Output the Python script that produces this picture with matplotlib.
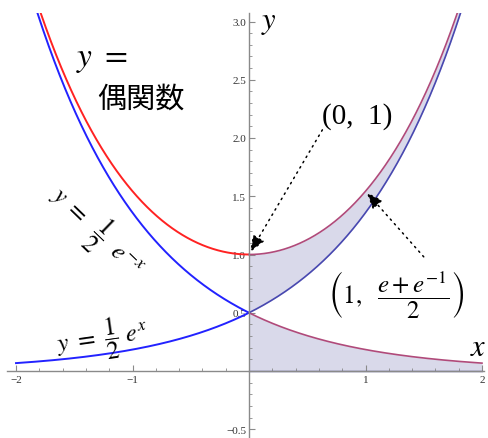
import numpy as np
import matplotlib.pyplot as plt
from matplotlib.ticker import FixedLocator, MultipleLocator

plt.rcParams['mathtext.fontset'] = 'stix'
plt.rcParams['font.family'] = ['Liberation Serif', 'DejaVu Serif']

# curves: y = (e^x + e^-x)/2, y = e^x/2, y = e^-x/2
x_left = np.linspace(-2, 0, 600)
x_right = np.linspace(0, 2, 600)
even_left = (np.exp(x_left) + np.exp(-x_left)) / 2
even_right = (np.exp(x_right) + np.exp(-x_right)) / 2
half_exp_left = np.exp(x_left) / 2
half_exp_right = np.exp(x_right) / 2
half_negexp_left = np.exp(-x_left) / 2
half_negexp_right = np.exp(-x_right) / 2

# marked points
pt_a = (0, 1)
pt_b = (1, (np.e + 1 / np.e) / 2)

x_ticks = [-2, -1, 1, 2]
x_ticklabels = ['\u22122', '\u22121', '1', '2']
y_ticks = [-0.5, 0.5, 1.0, 1.5, 2.0, 2.5, 3.0]
y_ticklabels = ['\u22120.5', '0.5', '1.0', '1.5', '2.0', '2.5', '3.0']

fig = plt.figure(figsize=(4.88, 4.39), dpi=100)
ax = fig.add_axes([0, 0, 1, 425 / 439])
scale = 116.5
ax.set_xlim(-249 / scale, (488 - 249) / scale)
ax.set_ylim(-67 / scale, 358 / scale)

# shaded regions
fill_c = '#d9d9ea'
ax.fill_between(x_right, half_exp_right, even_right, color=fill_c, lw=0)
ax.fill_between(x_right, 0, half_negexp_right, color=fill_c, lw=0)

red = '#ff2222'
blue = '#2222ff'
ax.plot(x_left, even_left, color=red, lw=1.4)
ax.plot(x_left, half_exp_left, color=blue, lw=1.4)
ax.plot(x_left, half_negexp_left, color=blue, lw=1.4)
ax.plot(x_right, even_right, color='#b04a7a', lw=1.2)
ax.plot(x_right, half_negexp_right, color='#b04a7a', lw=1.2)
ax.plot(x_right, half_exp_right, color='#4848b0', lw=1.2)
ax.plot([0, 2], [0, 0], color='#505090', lw=1.0)

# axes through the origin
for side in ['top', 'right']:
    ax.spines[side].set_visible(False)
ax.spines['left'].set_position(('data', 0))
ax.spines['bottom'].set_position(('data', 0))
ax.spines['left'].set_bounds(-0.58, 3.07)
ax.spines['bottom'].set_bounds(-2.08, 2.02)
for side in ['left', 'bottom']:
    ax.spines[side].set_color('#8a8a8a')
    ax.spines[side].set_linewidth(1.0)

ax.xaxis.set_major_locator(FixedLocator(x_ticks))
ax.set_xticklabels(x_ticklabels)
ax.xaxis.set_minor_locator(MultipleLocator(0.2))
ax.yaxis.set_major_locator(FixedLocator(y_ticks))
ax.set_yticklabels(y_ticklabels)
ax.yaxis.set_minor_locator(MultipleLocator(0.1))
ax.tick_params(which='major', direction='in', length=4, width=0.8,
               color='#8a8a8a', labelsize=8, labelcolor='#333333', pad=3)
ax.tick_params(which='minor', direction='in', length=2.5, width=0.6,
               color='#8a8a8a')
ax.tick_params(axis='y', pad=2)

ax.text(0.1, 3.0, '$y$', fontsize=22, ha='left', va='center')
ax.text(1.97, 0.2, '$x$', fontsize=22, ha='center', va='center')

# labels
ax.text(-1.26, 2.68, r'$y\ =$', fontsize=24, ha='center', va='center')
ax.text(-0.93, 2.34, '偶関数', fontsize=21, ha='center', va='center',
        family=['Noto Sans CJK JP', 'DejaVu Sans'])
ax.text(-1.31, 1.20, r'$y\ =\ \ \dfrac{1}{2}\ \ e^{-x}$', fontsize=18,
        ha='center', va='center', rotation=-44, rotation_mode='anchor')
ax.text(-1.26, 0.28, r'$y\ =\ \dfrac{1}{2}\ e^{x}$', fontsize=18,
        ha='center', va='center', rotation=8, rotation_mode='anchor')

ax.text(0.93, 2.19, '(0,  1)', fontsize=21, ha='center', va='center')
ax.text(1.26, 0.66, r'$\left(1,\ \ \dfrac{e+e^{-1}}{2}\right)$', fontsize=18,
        ha='center', va='center')

arrow = dict(arrowstyle='-|>,head_length=1.0,head_width=0.4', color='black',
             lw=1.1, linestyle=(0, (1, 3)), shrinkA=0, shrinkB=0)
ax.annotate('', xy=(pt_a[0] + 0.01, pt_a[1] + 0.02), xytext=(0.63, 2.07),
            arrowprops=arrow)
ax.annotate('', xy=(pt_b[0] + 0.01, pt_b[1] - 0.01), xytext=(1.50, 0.98),
            arrowprops=arrow)

fig.savefig('out.png', dpi=100)
